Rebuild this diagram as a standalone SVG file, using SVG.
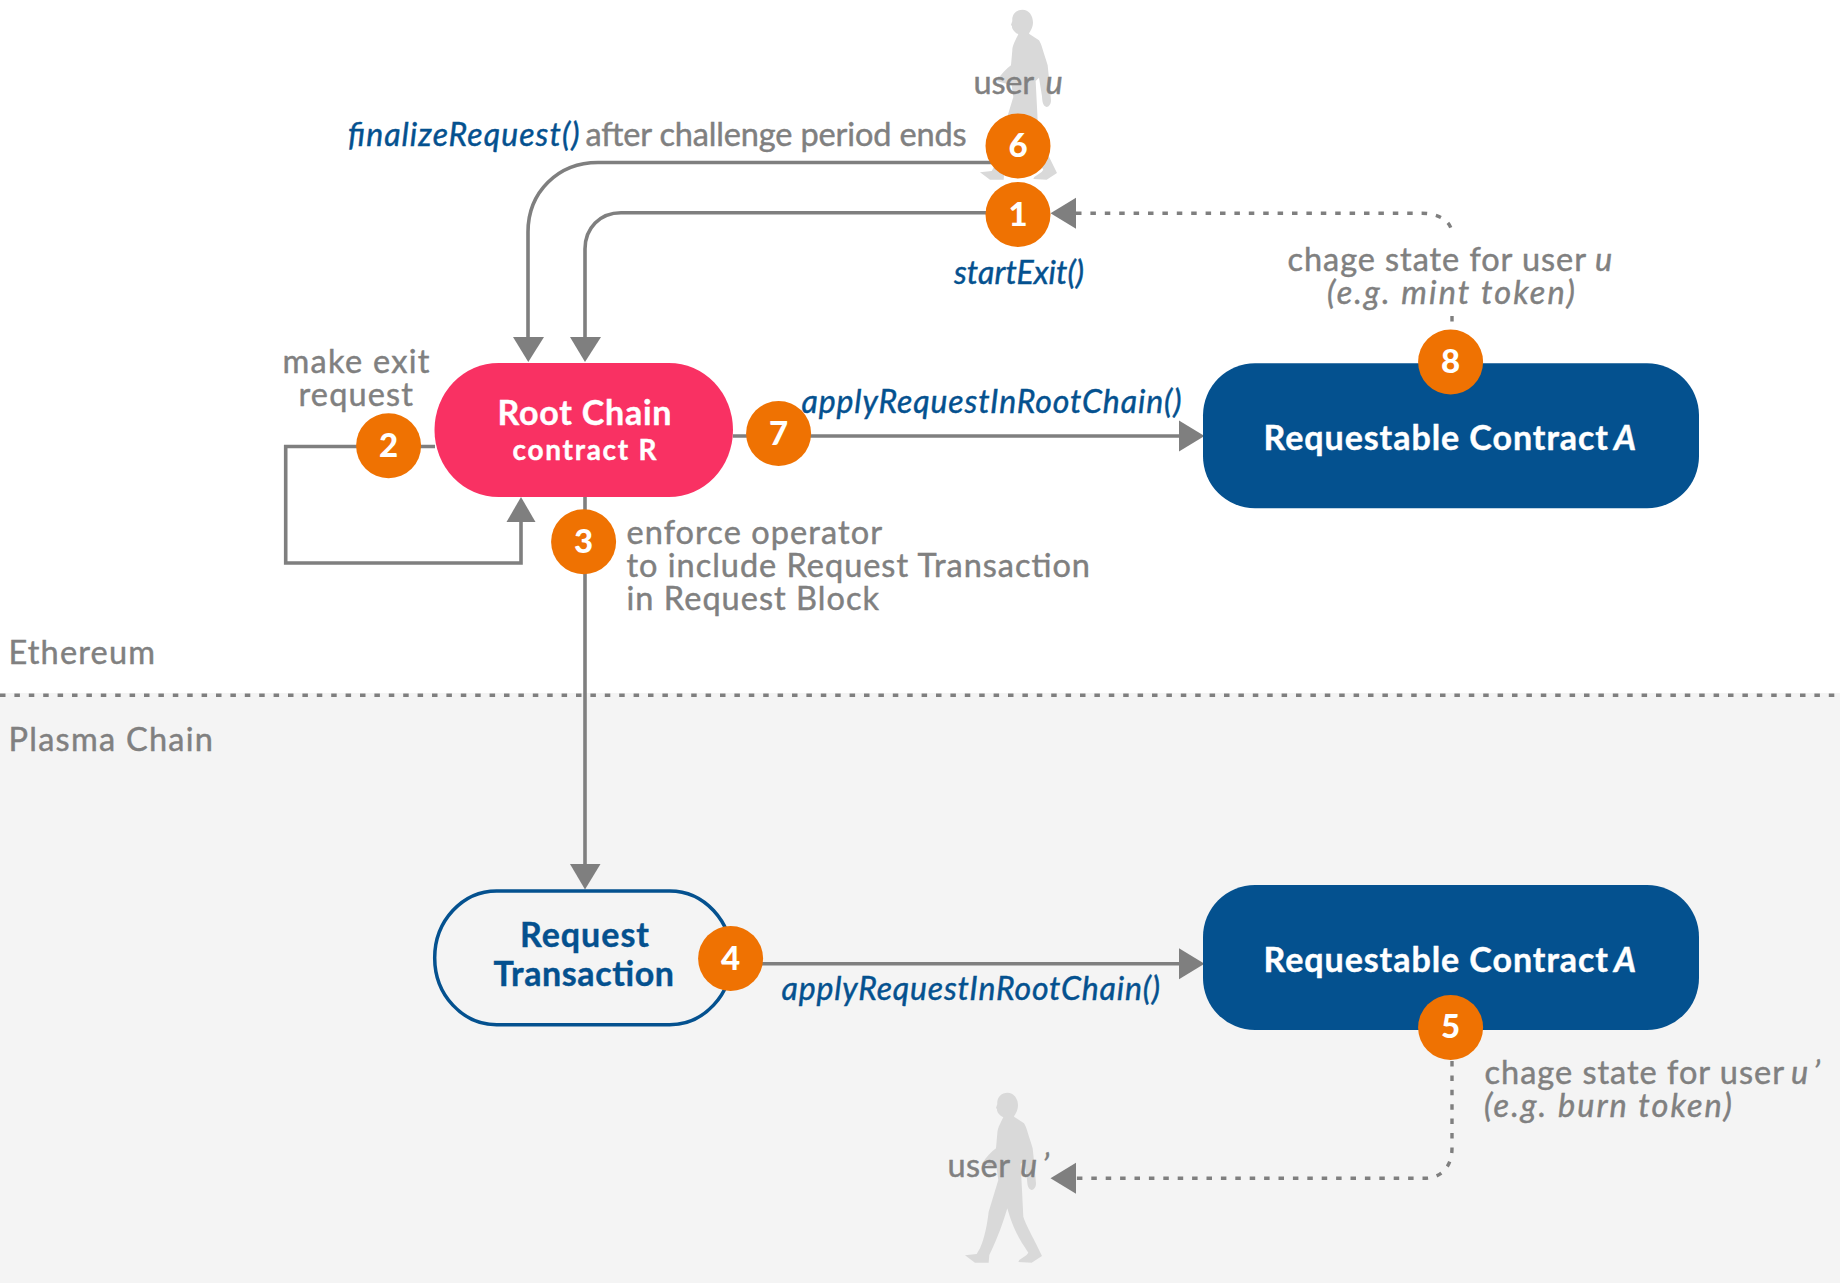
<svg xmlns="http://www.w3.org/2000/svg" width="1840" height="1283" viewBox="0 0 1840 1283">
<style>
text{font-family:Lato,"Open Sans","Liberation Sans",sans-serif}
.t{font-size:32.5px;fill:#808080;stroke:#808080;stroke-width:.45}
.i{font-style:italic}
.f{font-size:32px;fill:#04518f;stroke:#04518f;stroke-width:.45;font-style:italic}
.w{font-size:34px;fill:#fff;font-weight:700;stroke:#fff;stroke-width:.4}
.b{font-size:34px;fill:#04518f;font-weight:700;stroke:#04518f;stroke-width:.4}
.n{font-size:33px;fill:#fff;font-weight:900;text-anchor:middle}
.c{fill:#ef7202}
.l{fill:none;stroke:#7f7f7f;stroke-width:3.600}
.d{fill:none;stroke:#7f7f7f;stroke-width:3.400;stroke-dasharray:5.500 8.900}
.a{fill:#7f7f7f}
.p{fill:#d9d9d9}
</style>
<defs>
<path id="person" d="M310 232C298 226 290 215 291 207L288 204L292 192C290 172 305 158 322 158C342 158 354 176 354 196C354 212 346 222 342 230L372 250C380 262 385 285 392 305L398 325C402 360 405 395 408 430C408 442 402 450 395 450C386 448 382 440 381 418L372 362L362 372L365 430L370 530C378 555 395 585 405 605L426 648L395 668L355 666L358 660L380 645L385 638C360 600 340 570 322 505C310 545 295 590 268 645L266 668L225 668L195 646L230 642L240 625C255 590 262 550 266 515L295 420L290 385L245 372C260 350 275 335 288 325L292 280C292 268 298 255 310 232Z"/>
</defs>
<rect id="background" width="1840" height="1283" fill="#fff"/>
<rect id="plasma-band" y="693" width="1840" height="590" fill="#f4f4f4"/>
<path id="divider" class="d" d="M0 695.300H1840"/>
<g id="user-u" class="p" transform="translate(915 -43) scale(.3333)"><use href="#person"/></g>
<g id="user-u-prime" class="p" transform="translate(900 1040) scale(.3333)"><use href="#person"/></g>
<g id="connectors">
<path class="l" d="M1018 162.500H598C558 162.500 528 192 528 232V338"/>
<path class="l" d="M1018 212.700H621C600 212.700 585 228 585 249V338"/>
<path class="a" d="M528.300 362L513 337H544Z"/>
<path class="a" d="M585 362L570 337H601Z"/>
<path class="l" d="M435 446.500H285.700V563H521V520"/>
<path class="a" d="M521 497L535.500 522H506.500Z"/>
<path class="l" d="M585 497V865"/>
<path class="a" d="M585 889.500L570 864H600.500Z"/>
<path class="l" d="M733 436H1180"/>
<path class="a" d="M1204.500 436L1179 420.500V451.500Z"/>
<path class="l" d="M760 963.700H1180"/>
<path class="a" d="M1204.500 963.700L1179 948.200V979.200Z"/>
<path class="d" d="M1076 213.300H1422C1440 213.300 1452 222 1452 234"/>
<path class="d" d="M1452 316V331"/>
<path class="a" d="M1050.500 213.300L1076 197.800V228.800Z"/>
<path class="d" d="M1452 1061V1148C1452 1166 1442 1178.300 1424 1178.300H1076"/>
<path class="a" d="M1050.500 1178.300L1076 1162.800V1193.800Z"/>
</g>
<g id="root-chain"><rect x="434.500" y="363" width="298.500" height="134" rx="64" ry="67" fill="#f93163"/>
<text class="w" x="497.500" y="425" textLength="174">Root Chain</text>
<text class="w" style="font-size:28px" x="512.500" y="460" textLength="144">contract R</text></g>
<g id="contract-a-top"><rect x="1203" y="363.300" width="496" height="145" rx="52" fill="#04518f"/>
<text class="w" x="1263.500" y="450" textLength="344.500">Requestable Contract</text><text class="w i" x="1614" y="450" textLength="26">A</text></g>
<g id="contract-a-bottom"><rect x="1203" y="885" width="496" height="145" rx="52" fill="#04518f"/>
<text class="w" x="1263.500" y="972" textLength="344.500">Requestable Contract</text><text class="w i" x="1614" y="972" textLength="26">A</text></g>
<g id="request-transaction"><rect x="434.700" y="891" width="297" height="133.700" rx="62" ry="66.800" fill="#f3f3f3" fill-opacity="0" stroke="#04518f" stroke-width="3.500"/>
<text class="b" x="520" y="947" textLength="129">Request</text>
<text class="b" x="493.500" y="986" textLength="180.500">Transaction</text></g>
<g id="step-1"><circle class="c" cx="1018" cy="214.500" r="32.500"/><text class="n" x="1018" y="225.500">1</text></g>
<g id="step-2"><circle class="c" cx="388.600" cy="445.700" r="32.500"/><text class="n" x="388.600" y="457">2</text></g>
<g id="step-3"><circle class="c" cx="583.600" cy="541.700" r="32.500"/><text class="n" x="583.600" y="553">3</text></g>
<g id="step-4"><circle class="c" cx="730.600" cy="958.500" r="32.500"/><text class="n" x="730.600" y="969.500">4</text></g>
<g id="step-5"><circle class="c" cx="1450.600" cy="1027.500" r="32.500"/><text class="n" x="1450.600" y="1038">5</text></g>
<g id="step-6"><circle class="c" cx="1018" cy="146" r="32.500"/><text class="n" x="1018" y="156.500">6</text></g>
<g id="step-7"><circle class="c" cx="778.600" cy="433.500" r="32.500"/><text class="n" x="778.600" y="445">7</text></g>
<g id="step-8"><circle class="c" cx="1450.600" cy="362" r="32.500"/><text class="n" x="1450.600" y="373">8</text></g>
<g id="labels">
<text class="t" x="973.500" y="94" textLength="60.500">user</text><text class="t i" x="1045.500" y="94" textLength="18">u</text>
<text class="f" x="348" y="146" textLength="231.500">finalizeRequest()</text>
<text class="t" x="585.500" y="146" textLength="381">after challenge period ends</text>
<text class="f" x="954" y="283.600" textLength="130">startExit()</text>
<text class="t" x="282.500" y="373" textLength="147">make exit</text>
<text class="t" x="298.500" y="406" textLength="114.500">request</text>
<text class="t" x="626.500" y="544" textLength="255.500">enforce operator</text>
<text class="t" x="626.500" y="577" textLength="463.500">to include Request Transaction</text>
<text class="t" x="626.500" y="609.500" textLength="252.500">in Request Block</text>
<text class="f" x="801.500" y="412.700" textLength="380">applyRequestInRootChain()</text>
<text class="f" x="781.600" y="1000" textLength="378.500">applyRequestInRootChain()</text>
<text class="t" x="1287.500" y="271" textLength="298.500">chage state for user</text><text class="t i" x="1595" y="271" textLength="17.500">u</text>
<text class="t i" x="1327" y="304" textLength="248">(e.g. mint token)</text>
<text class="t" x="1484.500" y="1084" textLength="299.500">chage state for user</text><text class="t i" x="1791" y="1084" textLength="29">u’</text>
<text class="t i" x="1484" y="1117" textLength="248">(e.g. burn token)</text>
<text class="t" x="947.500" y="1177" textLength="62.500">user</text><text class="t i" x="1020" y="1177" textLength="29">u’</text>
<text class="t" x="8.500" y="664" textLength="146.500">Ethereum</text>
<text class="t" x="8.500" y="751" textLength="204.500">Plasma Chain</text>
</g>
</svg>
